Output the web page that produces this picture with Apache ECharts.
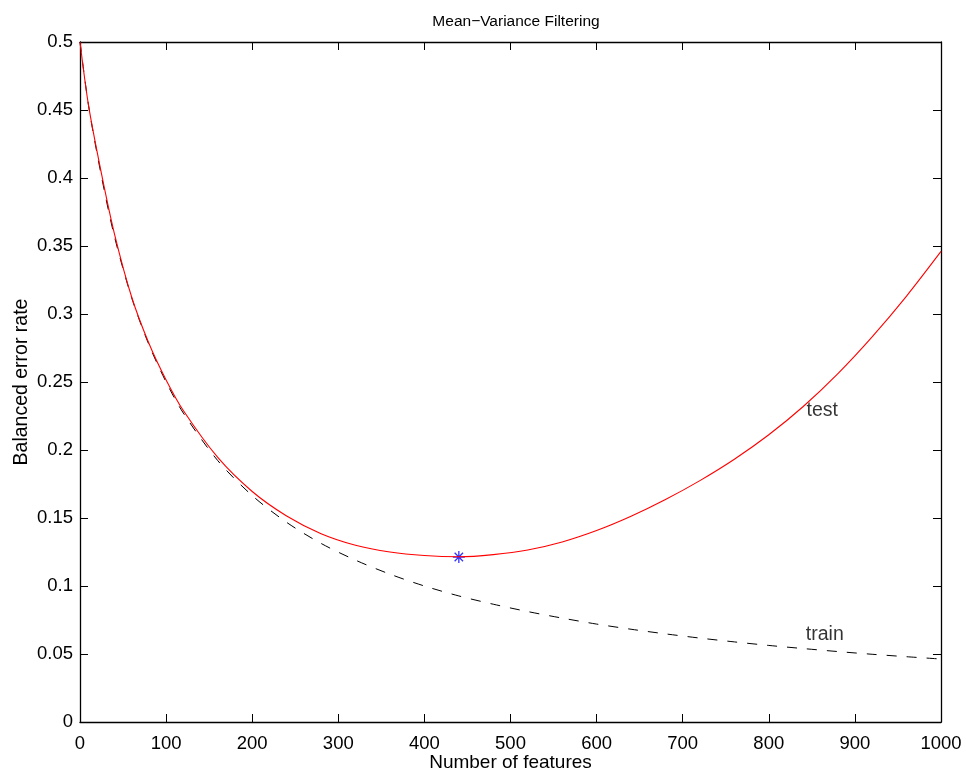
<!DOCTYPE html>
<html>
<head>
<meta charset="utf-8">
<script src="https://cdn.jsdelivr.net/npm/echarts@6/dist/echarts.min.js"></script>
<style>html,body{margin:0;padding:0;background:#fff}#c{width:966px;height:773px}</style>
</head>
<body>
<div id="c"></div>
<script>
var features = [0,10,25,40,60,80,100,120,160,200,240,280,320,360,400,440,480,520,560,600,640,680,720,760,800,840,880,920,960,1000];
var testErr  = [0.5,0.453,0.403,0.359,0.3125,0.2785,0.2515,0.2290,0.1945,0.1695,0.1515,0.1385,0.1300,0.1250,0.1224,0.1215,0.1231,0.1265,0.1324,0.1408,0.1513,0.1636,0.1775,0.1932,0.2112,0.2320,0.2560,0.2832,0.3132,0.3460];
var trainErr = [0.5,0.453,0.401,0.357,0.3120,0.2775,0.2500,0.2272,0.1922,0.1665,0.1468,0.1313,0.1190,0.1087,0.1000,0.0927,0.0866,0.0812,0.0764,0.0720,0.0682,0.0648,0.0617,0.0589,0.0563,0.0540,0.0518,0.0498,0.0480,0.0463];
var bestPoint = [440, 0.1213];
var curveLabels = [[862, 0.229, 'test'], [865, 0.064, 'train']];
var xTicks = {min: 0, max: 1000, step: 100};
var yTicks = {min: 0, max: 0.5, step: 0.05};

function zip(a, b) { return a.map(function (v, i) { return [v, b[i]]; }); }

var FONT = 'Liberation Sans, Arial, Helvetica, sans-serif';
var chart = echarts.init(document.getElementById('c'));
var tickStyle = {show: true, inside: true, length: 8, lineStyle: {color: '#000', width: 1}};
var lineStyleAxis = {show: true, onZero: false, lineStyle: {color: '#000', width: 1.3}};
var asterisk = 'path://M0,-5L0,5M-5,0L5,0M-3.5,-3.5L3.5,3.5M-3.5,3.5L3.5,-3.5';

chart.setOption({
  animation: false,
  backgroundColor: '#fff',
  title: {text: 'Mean\u2212Variance Filtering', left: 511, top: 9, textAlign: 'center',
    textStyle: {fontFamily: FONT, fontSize: 15.5, fontWeight: 'normal', color: '#000'}},
  grid: {left: 80, right: 25, top: 42, bottom: 51, containLabel: false, outerBoundsMode: 'none'},
  xAxis: [{
    type: 'value', min: xTicks.min, max: xTicks.max, interval: xTicks.step,
    name: 'Number of features', nameLocation: 'middle', nameGap: 31, nameMoveOverlap: false,
    nameTextStyle: {fontFamily: FONT, fontSize: 19, color: '#000'},
    axisLine: lineStyleAxis, axisTick: tickStyle,
    axisLabel: {fontFamily: FONT, fontSize: 18.5, color: '#000', margin: 12,
      formatter: function (v) { return String(v); }},
    splitLine: {show: false}
  }, {
    type: 'value', position: 'top', min: xTicks.min, max: xTicks.max, interval: xTicks.step,
    axisLine: lineStyleAxis, axisTick: tickStyle, axisLabel: {show: false}, splitLine: {show: false}
  }],
  yAxis: [{
    type: 'value', min: yTicks.min, max: yTicks.max, interval: yTicks.step,
    name: 'Balanced error rate', nameLocation: 'middle', nameGap: 48, nameRotate: 90, nameMoveOverlap: false,
    nameTextStyle: {fontFamily: FONT, fontSize: 19.5, color: '#000'},
    axisLine: lineStyleAxis, axisTick: tickStyle,
    axisLabel: {fontFamily: FONT, fontSize: 18.5, color: '#000', margin: 7,
      formatter: function (v) { return String(+v.toFixed(2)); }},
    splitLine: {show: false}
  }, {
    type: 'value', position: 'right', min: yTicks.min, max: yTicks.max, interval: yTicks.step,
    axisLine: lineStyleAxis, axisTick: tickStyle, axisLabel: {show: false}, splitLine: {show: false}
  }],
  series: [{
    name: 'train', type: 'line', data: zip(features, trainErr), smooth: 0.3,
    showSymbol: false, symbol: 'none',
    lineStyle: {color: '#000', width: 1, type: [10, 10]}
  }, {
    name: 'test', type: 'line', data: zip(features, testErr), smooth: 0.3,
    showSymbol: false, symbol: 'none',
    lineStyle: {color: '#ff0000', width: 1.1}
  }, {
    name: 'best', type: 'scatter', data: [bestPoint], symbol: asterisk, symbolSize: 12,
    itemStyle: {color: 'none', borderColor: '#0000ff', borderWidth: 1.3}
  }, {
    name: 'labels', type: 'scatter', data: curveLabels, symbolSize: 0,
    label: {show: true, position: 'inside', formatter: function (p) { return p.data[2]; },
      fontFamily: FONT, fontSize: 19.5, color: '#000'}
  }]
});
</script>
</body>
</html>
